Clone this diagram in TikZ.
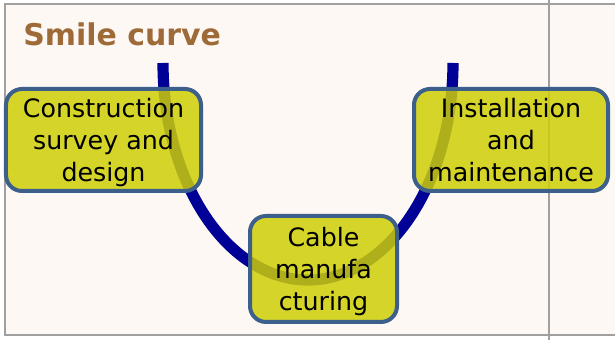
\documentclass[tikz,border=0pt]{standalone}
\usepackage{fontspec}
\setmainfont{DejaVu Sans}

\definecolor{slidebg}{RGB}{253,248,244}
\definecolor{slideframe}{RGB}{160,160,160}
\definecolor{titlebrown}{RGB}{158,106,56}
\definecolor{smileblue}{RGB}{0,0,150}
\definecolor{boxfill}{RGB}{206,206,6}
\definecolor{boxedge}{RGB}{61,95,140}

\begin{document}
\begin{tikzpicture}[
  frameline/.style={draw=slideframe, line width=0.05cm},
  smile/.style={draw=smileblue, line width=0.28cm},
  stagebox/.style={draw=boxedge, line width=0.1cm, rounded corners=0.4cm,
    fill=boxfill, fill opacity=0.85, text opacity=1, align=center,
    inner sep=0pt, minimum height=2.55cm, text depth=0pt,
    font=\fontsize{18}{22.8}\selectfont},
  slidetitle/.style={anchor=base west, inner sep=0pt, text=titlebrown,
    font=\fontsize{21.3}{26}\selectfont\bfseries},
]
  \useasboundingbox (0,0) rectangle (15.375,8.5);

  % slide background and frame
  \fill[slidebg] (0.125,0.125) rectangle (15.375,8.4);
  \draw[frameline] (15.375,8.4) -- (0.125,8.4) -- (0.125,0.125) -- (15.375,0.125);
  \draw[frameline] (13.725,0) -- (13.725,8.5);

  \node[slidetitle] (title) at (0.575,7.35) {Smile curve};

  % the smile itself
  \draw[smile] (4.075,6.925) arc[start angle=180, end angle=360,
    x radius=3.625, y radius=5.425];

  \node[stagebox, minimum width=4.875cm] (design) at (2.5875,5.0)
    {Construction\\survey and\\design};
  \node[stagebox, minimum width=3.675cm, minimum height=2.65cm] (cable) at (8.0875,1.775)
    {Cable\\manufa\\cturing};
  \node[stagebox, minimum width=4.85cm] (install) at (12.775,5.0)
    {Installation\\and\\maintenance};
\end{tikzpicture}
\end{document}
